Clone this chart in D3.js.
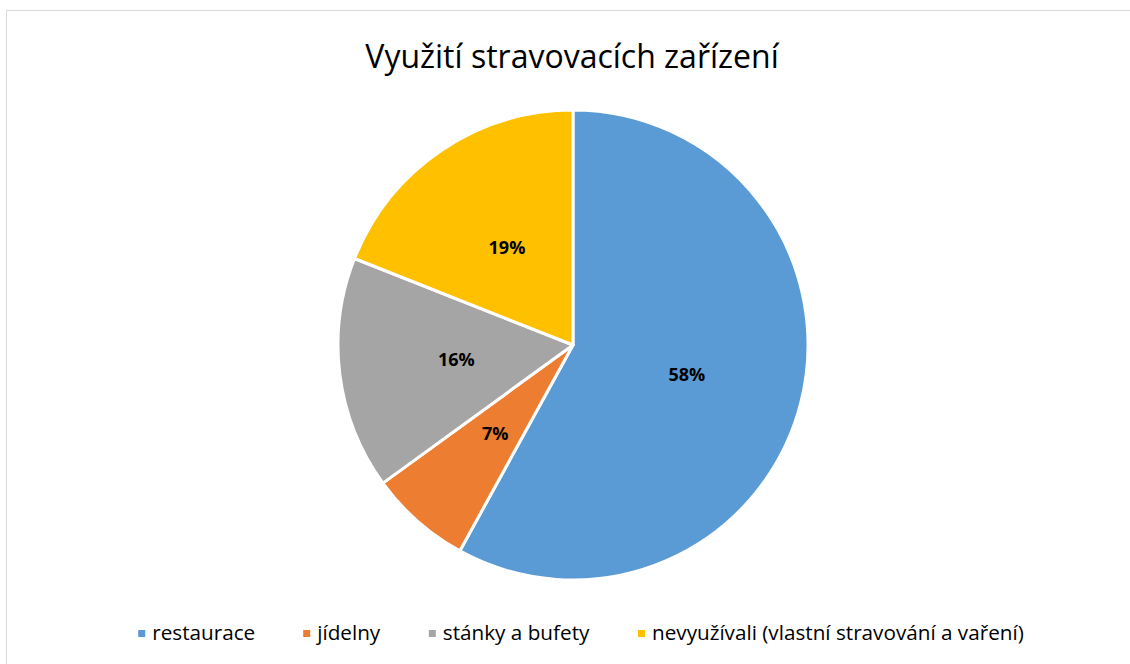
<!DOCTYPE html>
<html><head><meta charset="utf-8">
<script src="https://cdn.jsdelivr.net/npm/d3@7"></script>
<style>
html,body{margin:0;padding:0;background:#fff;}
svg{display:block;font-family:"Open Sans","Noto Sans",sans-serif;}
</style></head>
<body><svg id="c" width="1130" height="664"></svg>
<script>
const title = "Využití stravovacích zařízení";
const categories = ["restaurace","jídelny","stánky a bufety","nevyužívali (vlastní stravování a vaření)"];
const values = [58, 7, 16, 19];
const colors = ["#5b9bd5","#ed7d31","#a5a5a5","#ffc000"];

const svg = d3.select("#c");
const W = 1130, H = 664;
svg.append("rect").attr("x",6.5).attr("y",10.5).attr("width",W).attr("height",H)
  .attr("fill","#fff").attr("stroke","#d9d9d9").attr("stroke-width",1);

svg.append("text").attr("x",572).attr("y",68).attr("text-anchor","middle")
  .attr("font-size",32).attr("fill","#000").text(title);

const cx = 573, cy = 345, R = 235;
const data = categories.map((c,i)=>({c, v: values[i], col: colors[i]}));
const pie = d3.pie().sort(null).value(d=>d.v);
const arc = d3.arc().innerRadius(0).outerRadius(R);
const labelArc = d3.arc().innerRadius(R*0.5).outerRadius(R*0.5);
const total = d3.sum(values);
const g = svg.append("g").attr("transform",`translate(${cx},${cy})`);
const arcs = pie(data);
g.selectAll("path").data(arcs).join("path")
  .attr("d",arc).attr("fill",d=>d.data.col)
  .attr("stroke","#fff").attr("stroke-width",3).attr("stroke-linejoin","round");
g.selectAll("text").data(arcs).join("text")
  .attr("transform",d=>`translate(${labelArc.centroid(d)})`)
  .attr("text-anchor","middle").attr("dy","0.36em")
  .attr("font-size",18).attr("font-weight","bold").attr("fill","#000")
  .text(d=>Math.round(d.data.v/total*100)+"%");

// legend
const lg = svg.append("g");
const items = lg.selectAll("g").data(data).join("g");
items.append("rect").attr("width",7).attr("height",7).attr("y",-10).attr("fill",d=>d.col);
items.append("text").attr("x",14).attr("font-size",20.7).attr("fill","#000").text(d=>d.c);
const gap = 48;
let widths = [];
items.each(function(){ widths.push(this.getBBox().width); });
const totalW = d3.sum(widths) + gap*(widths.length-1);
let x0 = 581 - totalW/2;
items.attr("transform",(d,i)=>{ const t=`translate(${x0},640)`; x0 += widths[i]+gap; return t; });
</script></body></html>
